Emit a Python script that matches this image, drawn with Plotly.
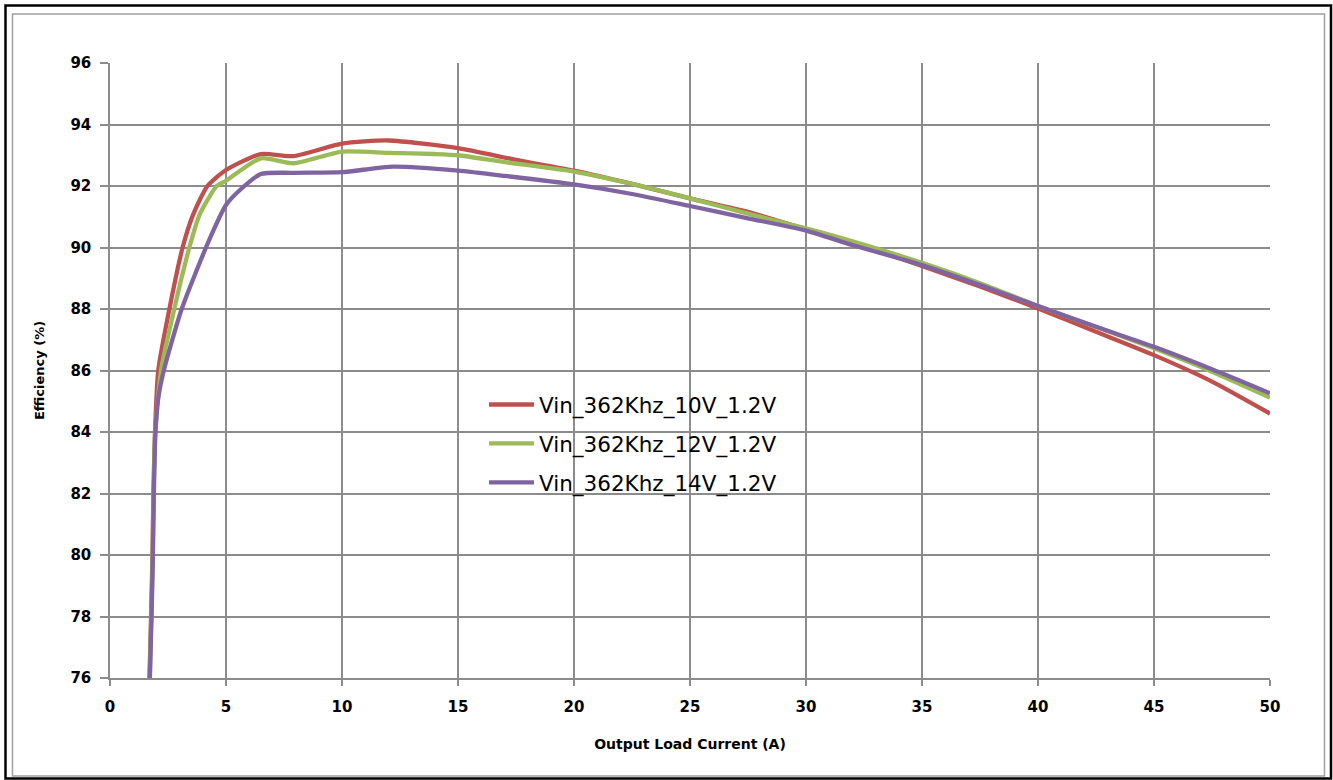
import plotly.graph_objects as go

# Output load current (A) and efficiency (%)
x_10v = [1.70, 1.77, 1.83, 1.87, 1.94, 2.08, 2.56, 3.13, 3.60, 4.20, 5.0, 6.5, 7.9, 10.0, 12.0, 15.0, 17.5, 20.0, 22.5, 25.0, 27.5, 30.0, 32.0, 35.0, 37.5, 40.0, 42.5, 45.0, 47.5, 50.0]
y_10v = [76.0, 78.0, 80.0, 82.0, 84.0, 86.0, 88.0, 90.0, 91.1, 92.0, 92.52, 93.04, 92.97, 93.38, 93.48, 93.23, 92.85, 92.5, 92.07, 91.6, 91.16, 90.59, 90.16, 89.4, 88.73, 88.02, 87.26, 86.5, 85.64, 84.6]

x_12v = [1.71, 1.78, 1.84, 1.88, 1.95, 2.20, 2.77, 3.42, 3.88, 4.60, 5.0, 6.5, 7.9, 10.0, 12.0, 14.0, 15.0, 17.0, 20.0, 22.5, 25.0, 27.5, 30.0, 32.0, 35.0, 37.5, 40.0, 42.5, 45.0, 47.5, 50.0]
y_12v = [76.0, 78.0, 80.0, 82.0, 84.0, 86.0, 88.0, 90.0, 91.1, 92.0, 92.17, 92.9, 92.74, 93.12, 93.08, 93.04, 93.0, 92.78, 92.47, 92.07, 91.6, 91.1, 90.62, 90.2, 89.5, 88.84, 88.1, 87.42, 86.72, 85.96, 85.12]

x_14v = [1.72, 1.79, 1.85, 1.89, 1.96, 2.08, 2.32, 3.09, 4.25, 5.0, 5.6, 6.5, 7.9, 10.0, 12.2, 15.0, 17.0, 20.0, 22.5, 25.0, 27.5, 30.0, 32.0, 35.0, 37.5, 40.0, 42.5, 45.0, 47.5, 50.0]
y_14v = [76.0, 78.0, 80.0, 82.0, 84.0, 85.1, 86.0, 88.0, 90.2, 91.38, 91.87, 92.39, 92.43, 92.45, 92.63, 92.5, 92.33, 92.05, 91.74, 91.35, 90.95, 90.55, 90.08, 89.43, 88.78, 88.1, 87.42, 86.77, 86.04, 85.26]

series_names = ["Vin_362Khz_10V_1.2V", "Vin_362Khz_12V_1.2V", "Vin_362Khz_14V_1.2V"]
series_colors = ["#C0504D", "#9BBB59", "#8064A2"]

x_ticks = [0, 5, 10, 15, 20, 25, 30, 35, 40, 45, 50]
y_ticks = [76, 78, 80, 82, 84, 86, 88, 90, 92, 94, 96]

W, H = 1333, 780
L, R, T, B = 110, 63, 63, 102
pw, ph = W - L - R, H - T - B


def px(xp):
    return (xp - L) / pw


def py(yp):
    return (H - B - yp) / ph


fig = go.Figure()
for i, (xs, ys, name, col) in enumerate(zip([x_10v, x_12v, x_14v], [y_10v, y_12v, y_14v], series_names, series_colors)):
    fig.add_trace(go.Scatter(
        x=xs, y=ys, mode="lines", name=name, legendgroup="g%d" % i,
        line=dict(color=col, width=4.3, shape="spline", smoothing=0.6),
        cliponaxis=True,
    ))

grid = "#8C8C8C"

fig.update_layout(
    width=W, height=H,
    margin=dict(l=L, r=R, t=T, b=B, pad=0),
    paper_bgcolor="white", plot_bgcolor="white",
    showlegend=True,
    legend=dict(
        x=px(484), y=py(384), xanchor="left", yanchor="top",
        bgcolor="rgba(0,0,0,0)", borderwidth=0,
        font=dict(family="DejaVu Sans", size=21.5, color="#000000"),
        tracegroupgap=8, itemwidth=45,
    ),
    xaxis=dict(
        range=[0, 50], tickvals=x_ticks, ticktext=[str(v) for v in x_ticks],
        showgrid=True, gridcolor=grid, gridwidth=1.5,
        showline=True, linecolor=grid, linewidth=1.5,
        ticks="outside", ticklen=6, tickcolor=grid, tickwidth=1.5,
        ticklabelstandoff=8,
        tickfont=dict(family="DejaVu Sans", size=15, color="#000000", weight="bold"),
        zeroline=False,
        title=dict(text="<b>Output Load Current (A)</b>",
                   font=dict(family="DejaVu Sans", size=14, color="#000000"), standoff=24),
    ),
    yaxis=dict(
        range=[76, 96], tickvals=y_ticks, ticktext=[str(v) for v in y_ticks],
        showgrid=True, gridcolor=grid, gridwidth=1.5,
        showline=True, linecolor=grid, linewidth=1.5,
        ticks="outside", ticklen=8, tickcolor=grid, tickwidth=1.5,
        ticklabelstandoff=6,
        tickfont=dict(family="DejaVu Sans", size=15, color="#000000", weight="bold"),
        zeroline=False,
        title=dict(text="<b>Efficiency (%)</b>",
                   font=dict(family="DejaVu Sans", size=13, color="#000000"), standoff=23),
    ),
)

fig.add_shape(type="rect", xref="paper", yref="paper",
              x0=px(12.5), x1=px(1324.5), y0=py(776), y1=py(14),
              line=dict(color="#A0A0A0", width=1.5), layer="below")
fig.add_shape(type="rect", xref="paper", yref="paper",
              x0=px(5.5), x1=px(1331), y0=py(778.5), y1=py(5.5),
              line=dict(color="#000000", width=2.5), layer="below")

fig.write_html("out.html", config={"displayModeBar": False},
               post_script="document.body.style.margin='0px';")
